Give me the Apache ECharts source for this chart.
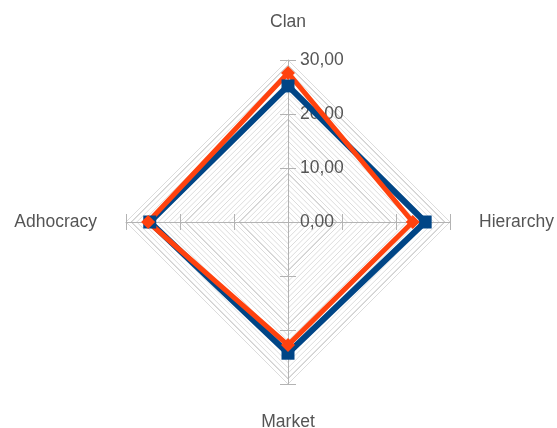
<!DOCTYPE html>
<html>
<head>
<meta charset="utf-8">
<script src="https://cdn.jsdelivr.net/npm/echarts@6/dist/echarts.min.js"></script>
<style>
  html, body { margin: 0; padding: 0; background: #fff; }
  #chart { width: 557px; height: 428px; }
</style>
</head>
<body>
<div id="chart"></div>
<script>
  // indicators, counter-clockwise from the top
  const names = ['Clan', 'Adhocracy', 'Market', 'Hierarchy'];
  const maxValue = 30;
  const seriesBlue = [25.2, 25.6, 24.3, 25.4];
  const seriesOrange = [27.6, 25.9, 22.8, 23.1];

  const chart = echarts.init(document.getElementById('chart'));
  const font = 'Liberation Sans, Arial, sans-serif';
  const center = ['288', '222'];
  const radius = 162;

  const indicator = names.map(function (n, i) {
    const ind = { name: n, min: 0, max: maxValue };
    if (i === 0) ind.axisLabel = { show: true };
    return ind;
  });
  const plain = names.map(function (n) {
    return { name: n, min: 0, max: maxValue };
  });

  // minor grid every 1, darker every 10
  let minorColors = [];
  for (let i = 0; i < 30; i++) {
    minorColors.push((i + 1) % 10 === 0 ? '#b3b3b3' : '#dcdcdc');
  }

  let option = {
    animation: false,
    radar: [
      {
        center: center, radius: radius, startAngle: 90, shape: 'polygon',
        splitNumber: 30, indicator: plain,
        axisName: { show: false },
        splitArea: { show: false },
        splitLine: { lineStyle: { color: minorColors, width: 1 } },
        axisLine: { show: false },
        axisTick: { show: false },
        axisLabel: { show: false }
      },
      {
        center: center, radius: radius, startAngle: 90, shape: 'polygon',
        splitNumber: 3, indicator: indicator,
        nameGap: 29,
        axisName: { color: '#555', fontSize: 17.5, fontFamily: font },
        splitArea: { show: false },
        splitLine: { show: false },
        axisLine: { lineStyle: { color: '#b3b3b3', width: 1 } },
        axisTick: { show: true, length: 8, lineStyle: { color: '#b3b3b3' } },
        axisLabel: {
          show: false, color: '#555', fontSize: 17.5, fontFamily: font,
          margin: -12, align: 'left',
          formatter: function (v) { return v.toFixed(2).replace('.', ','); }
        }
      },
      {
        center: center, radius: radius, startAngle: 90, shape: 'polygon',
        splitNumber: 3, indicator: plain,
        axisName: { show: false },
        splitArea: { show: false },
        splitLine: { show: false },
        axisLine: { show: false },
        axisTick: { show: true, length: -8, lineStyle: { color: '#b3b3b3' } },
        axisLabel: { show: false }
      }
    ],
    series: [
      {
        type: 'radar', radarIndex: 1,
        symbol: 'rect', symbolSize: 13,
        lineStyle: { color: '#004586', width: 6 },
        itemStyle: { color: '#004586' },
        data: [{ value: seriesBlue, name: 'blue' }]
      },
      {
        type: 'radar', radarIndex: 1,
        symbol: 'diamond', symbolSize: 14,
        lineStyle: { color: '#ff420e', width: 5 },
        itemStyle: { color: '#ff420e' },
        data: [{ value: seriesOrange, name: 'orange' }]
      }
    ]
  };

  chart.setOption(option);
  window.addEventListener('resize', function () {
    chart.resize();
  });
</script>
</body>
</html>
